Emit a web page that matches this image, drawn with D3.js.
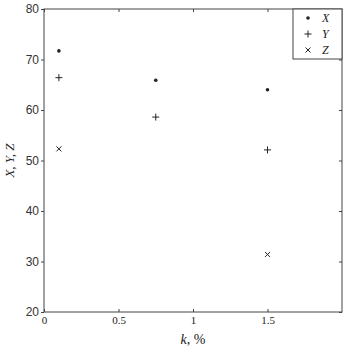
<!DOCTYPE html>
<html><head><meta charset="utf-8">
<script src="https://cdn.jsdelivr.net/npm/d3@7"></script>
<style>body{margin:0;background:#fff}svg{display:block}</style>
</head><body>
<svg id="c" width="347" height="353"></svg>
<script>
const kX = [0.1, 0.75, 1.5];
const valX = [71.7, 65.9, 64.0];
const kY = [0.1, 0.75, 1.5];
const valY = [66.4, 58.6, 52.1];
const kZ = [0.1, 1.5];
const valZ = [52.3, 31.4];
const xTicks = [0, 0.5, 1, 1.5];
const yTicks = [20, 30, 40, 50, 60, 70, 80];
const legendNames = ["X", "Y", "Z"];

const svg = d3.select("#c");
const L = 44, R = 342, T = 9, B = 312;
const x = d3.scaleLinear().domain([0, 2]).range([L, R]);
const y = d3.scaleLinear().domain([20, 80]).range([B, T]);
const axCol = "#444";

svg.append("rect").attr("x", L).attr("y", T).attr("width", R - L).attr("height", B - T)
  .attr("fill", "none").attr("stroke", axCol).attr("stroke-width", 1);

const fmt = d => d === 0 ? "0" : String(d);
const gb = svg.append("g").attr("transform", `translate(0,${B})`)
  .call(d3.axisBottom(x).tickValues(xTicks).tickFormat(fmt).tickSize(-3).tickPadding(4));
gb.select(".domain").remove();
gb.selectAll("line").attr("stroke", axCol);
gb.selectAll("text").attr("font-family", "Liberation Serif").attr("font-size", 11).attr("fill", "#222");
const gt = svg.append("g").attr("transform", `translate(0,${T})`)
  .call(d3.axisTop(x).tickValues(xTicks).tickFormat("").tickSize(-3));
gt.select(".domain").remove(); gt.selectAll("line").attr("stroke", axCol);
const gl = svg.append("g").attr("transform", `translate(${L},0)`)
  .call(d3.axisLeft(y).tickValues(yTicks).tickSize(3).tickPadding(2));
gl.select(".domain").remove();
gl.selectAll("line").attr("stroke", axCol);
gl.selectAll("text").attr("font-family", "Liberation Sans").attr("font-size", 12).attr("fill", "#333");
const gr = svg.append("g").attr("transform", `translate(${R},0)`)
  .call(d3.axisRight(y).tickValues(yTicks).tickFormat("").tickSize(-3));
gr.select(".domain").remove(); gr.selectAll("line").attr("stroke", axCol);

function star(g, cx, cy) {
  g.append("circle").attr("cx", cx).attr("cy", cy).attr("r", 1.8).attr("fill", "#222");
}
function plus(g, cx, cy) {
  g.append("path").attr("d", `M${cx-3.5},${cy}H${cx+3.5}M${cx},${cy-3.5}V${cy+3.5}`)
    .attr("stroke", "#222").attr("stroke-width", 1).attr("fill", "none");
}
function cross(g, cx, cy) {
  g.append("path").attr("d", `M${cx-2.5},${cy-2.5}L${cx+2.5},${cy+2.5}M${cx+2.5},${cy-2.5}L${cx-2.5},${cy+2.5}`)
    .attr("stroke", "#222").attr("stroke-width", 1).attr("fill", "none");
}
const gm = svg.append("g");
kX.forEach((k, i) => star(gm, x(k), y(valX[i])));
kY.forEach((k, i) => plus(gm, x(k), y(valY[i])));
kZ.forEach((k, i) => cross(gm, x(k), y(valZ[i])));

const lg = svg.append("g");
lg.append("rect").attr("x", 293).attr("y", T).attr("width", R - 293).attr("height", 50)
  .attr("fill", "#fff").attr("stroke", axCol);
const markers = [star, plus, cross];
legendNames.forEach((n, i) => {
  const cy = 18 + i * 16;
  markers[i](lg, 308, cy);
  lg.append("text").attr("x", 322).attr("y", cy + 4).text(n)
    .attr("font-family", "Liberation Serif").attr("font-style", "italic").attr("font-size", 12).attr("fill", "#222");
});

svg.append("text").attr("transform", `translate(14,${(T + B) / 2}) rotate(-90)`)
  .attr("text-anchor", "middle").attr("font-family", "Liberation Serif").attr("font-style", "italic")
  .attr("font-size", 13).attr("fill", "#222").text("X, Y, Z");
const xl = svg.append("text").attr("x", 193).attr("y", 344).attr("text-anchor", "middle")
  .attr("font-family", "Liberation Serif").attr("font-size", 14).attr("fill", "#222");
xl.append("tspan").attr("font-style", "italic").text("k");
xl.append("tspan").text(", %");
</script>
</body></html>
